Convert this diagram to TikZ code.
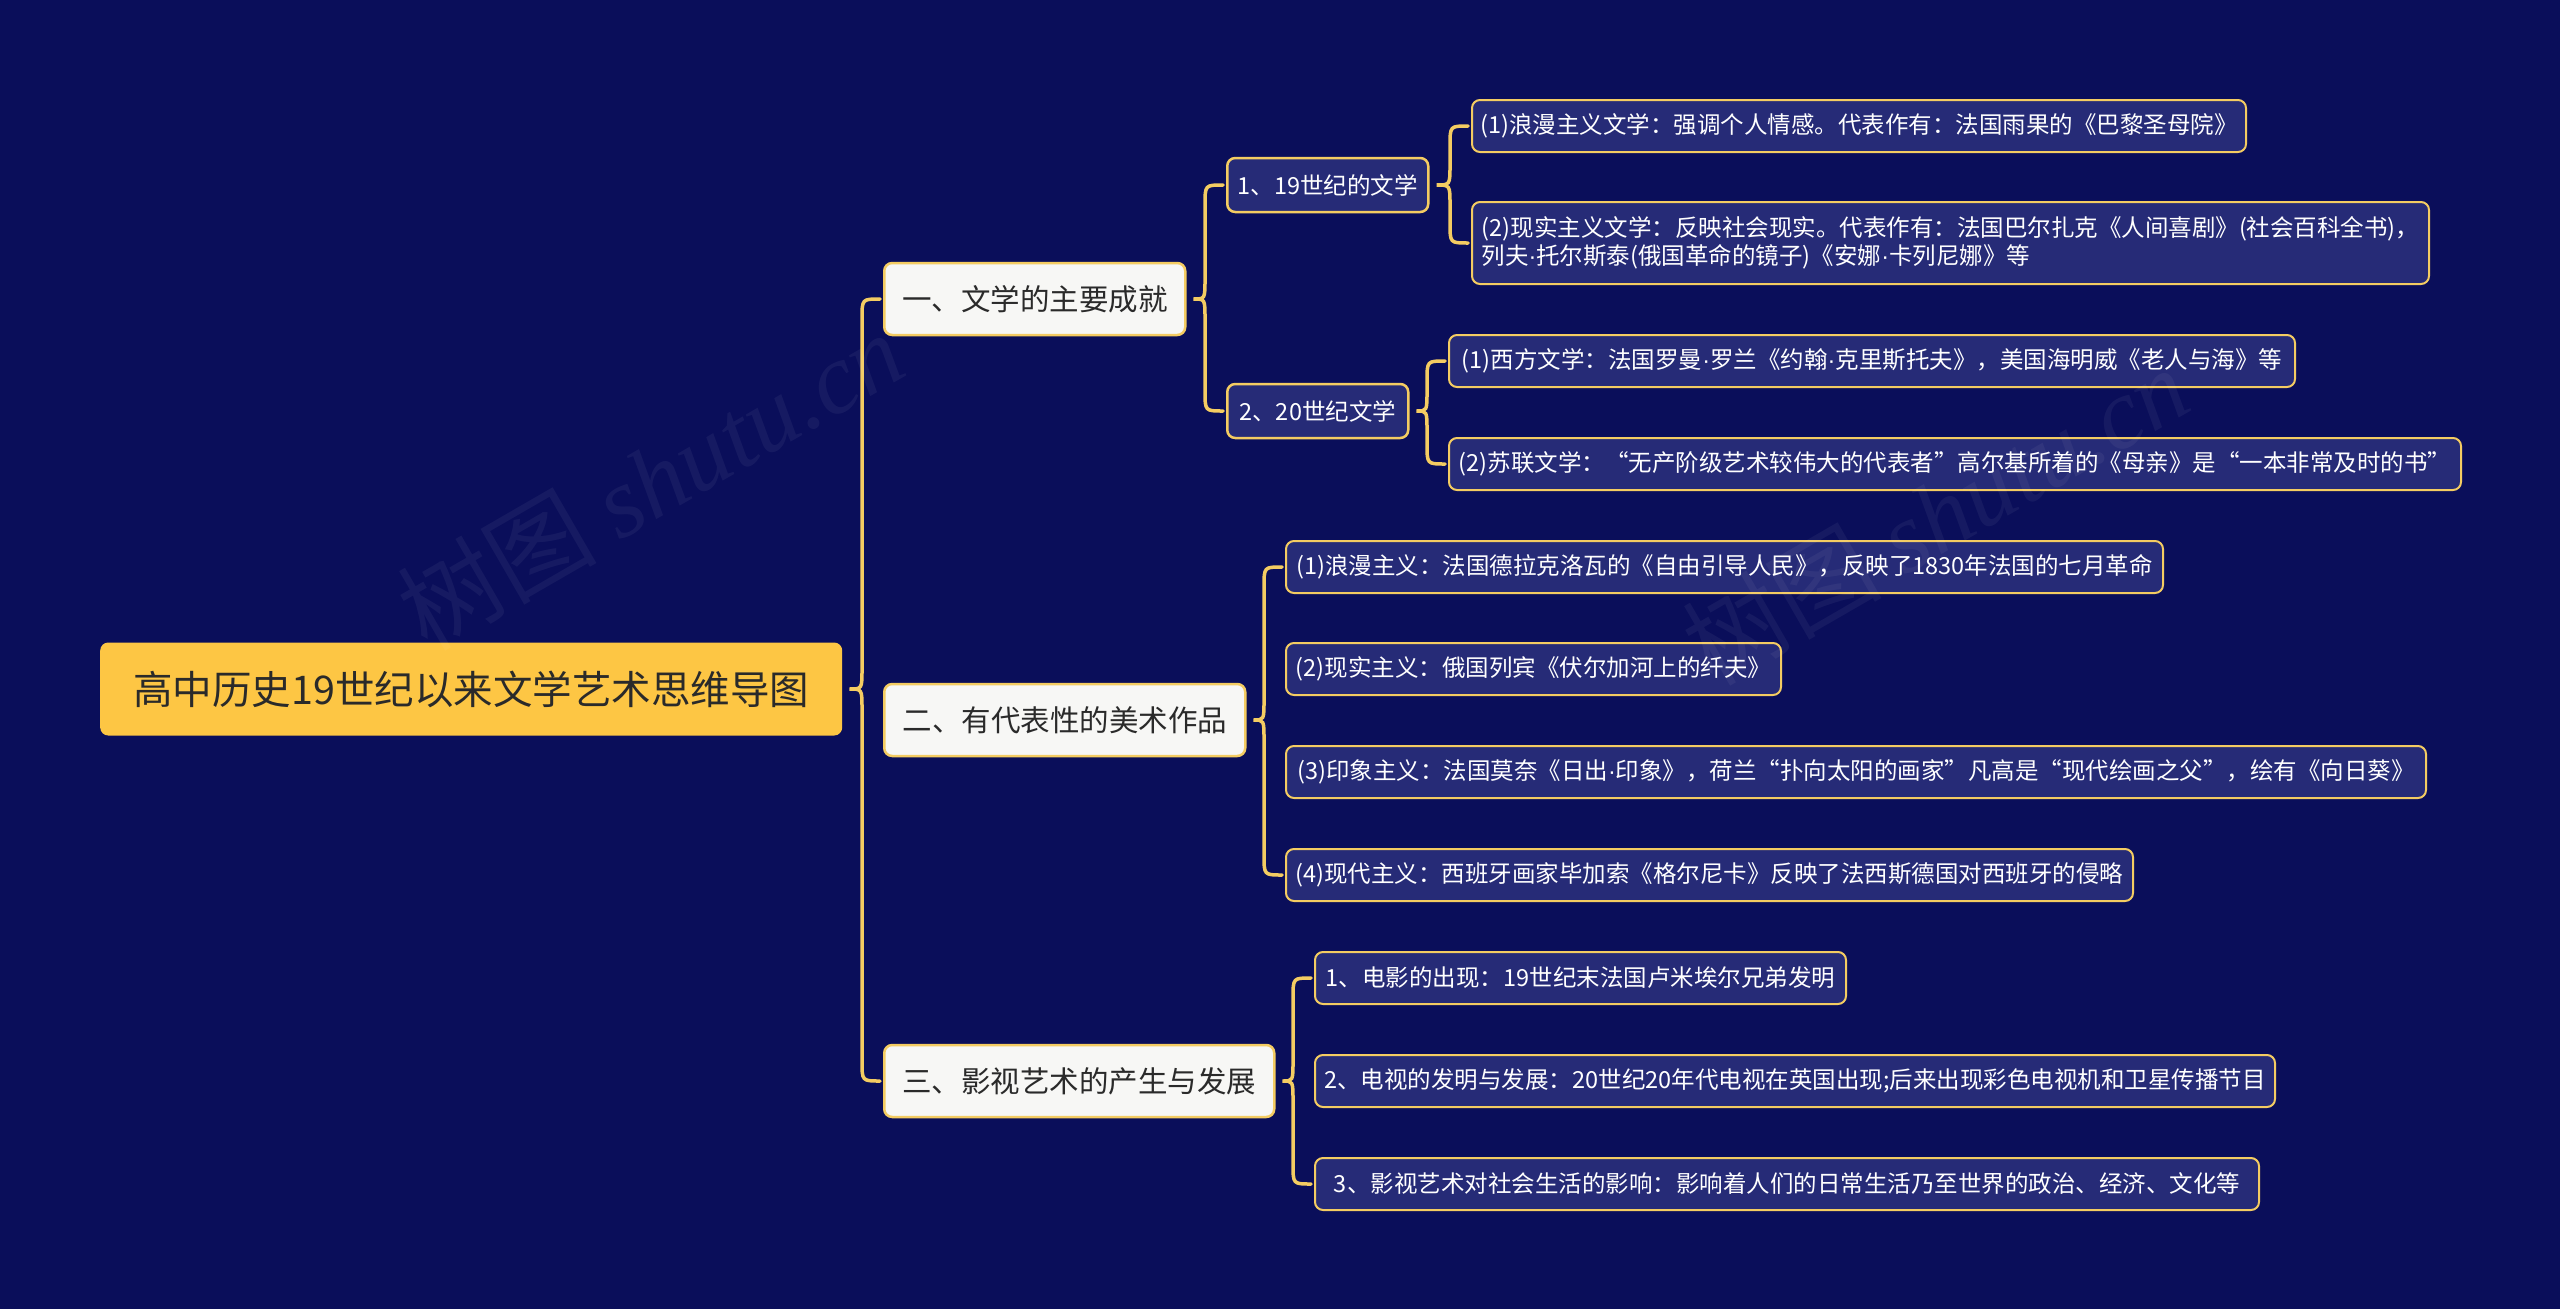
\documentclass[tikz,border=0pt]{standalone}
\usepackage{fontspec}
\setmainfont{Noto Sans CJK SC}
\newfontfamily\wmfont{Liberation Serif}
\newfontfamily\latinfont{Liberation Sans}
\newcommand\md{{\latinfont ·}}
\usetikzlibrary{calc}
\definecolor{bg}{HTML}{0A0E5A}
\definecolor{leaffill}{HTML}{262B77}
\definecolor{gold}{HTML}{F4CC62}
\definecolor{rootfill}{HTML}{FDC644}
\definecolor{lonefill}{HTML}{F7F7F5}
\definecolor{darktext}{HTML}{2A2A2A}
\tikzset{
  base/.style={rounded corners=8pt, anchor=west, inner xsep=0pt, inner ysep=0pt, align=center},
  rootbox/.style={base, fill=rootfill, text=darktext, font=\fontsize{39.5}{46}\selectfont, minimum height=93pt},
  lonebox/.style={base, fill=lonefill, draw=gold, line width=2.5pt, text=darktext, font=\fontsize{29.5}{34}\selectfont, minimum height=72pt},
  ltwobox/.style={base, fill=leaffill, draw=gold, line width=2.5pt, text=white, font=\fontsize{23.5}{28}\selectfont, minimum height=54pt},
  leafbox/.style={base, fill=leaffill, draw=gold, line width=2pt, text=white, font=\fontsize{23.5}{28}\selectfont, minimum height=52pt},
  conn/.style={draw=gold, line width=3.5pt, line cap=round},
  wmark/.style={text=white, opacity=0.05, rotate=30, font=\fontsize{100}{110}\selectfont}
}
\newcommand\mmbrace[3]{%
  \draw[conn] let \p1=(#1.east), \p2=(#2.west), \p3=(#3.west) in
    (\x2-3pt,\y2) .. controls (\x2-21pt,\y2) .. (\x2-21pt,\y2-20pt)
    -- (\x2-21pt,\y1+20pt) .. controls (\x2-21pt,\y1) .. (\x1+7pt,\y1)
    .. controls (\x2-21pt,\y1) .. (\x2-21pt,\y1-20pt)
    -- (\x3-21pt,\y3+20pt) .. controls (\x3-21pt,\y3) .. (\x3-3pt,\y3);}
\begin{document}
\begin{tikzpicture}[x=1pt,y=-1pt]
\useasboundingbox (0,0) rectangle (2560,1309);
\fill[bg] (0,0) rectangle (2560,1309);
% root
\node[rootbox, minimum width=742pt] (root) at (100,689) {高中历史19世纪以来文学艺术思维导图};
% level 1
\node[lonebox, minimum width=301pt] (la) at (883,299) {一、文学的主要成就};
\node[lonebox, minimum width=361pt] (lb) at (883,720) {二、有代表性的美术作品};
\node[lonebox, minimum width=390pt] (lc) at (883,1081) {三、影视艺术的产生与发展};
% level 2 under la
\node[ltwobox, minimum width=201pt] (ma) at (1226,185) {1、19世纪的文学};
\node[ltwobox, minimum width=181pt] (mb) at (1226,411) {2、20世纪文学};
% leaves
\node[leafbox, minimum width=774pt] (a1) at (1471,126) {(1)浪漫主义文学：强调个人情感。代表作有：法国雨果的《巴黎圣母院》};
\node[leafbox, minimum width=957pt, minimum height=82pt, align=left] (a2) at (1471,243) {(2)现实主义文学：反映社会现实。代表作有：法国巴尔扎克《人间喜剧》(社会百科全书)，\\列夫\md 托尔斯泰(俄国革命的镜子)《安娜\md 卡列尼娜》等};
\node[leafbox, minimum width=846pt] (b1) at (1448,361) {(1)西方文学：法国罗曼\md 罗兰《约翰\md 克里斯托夫》，美国海明威《老人与海》等};
\node[leafbox, minimum width=1012pt] (b2) at (1448,464) {(2)苏联文学：“无产阶级艺术较伟大的代表者”高尔基所着的《母亲》是“一本非常及时的书”};
\node[leafbox, minimum width=877pt] (c1) at (1285,567) {(1)浪漫主义：法国德拉克洛瓦的《自由引导人民》，反映了1830年法国的七月革命};
\node[leafbox, minimum width=495pt] (c2) at (1285,669) {(2)现实主义：俄国列宾《伏尔加河上的纤夫》};
\node[leafbox, minimum width=1140pt] (c3) at (1285,772) {(3)印象主义：法国莫奈《日出\md 印象》，荷兰“扑向太阳的画家”凡高是“现代绘画之父”，绘有《向日葵》};
\node[leafbox, minimum width=847pt] (c4) at (1285,875) {(4)现代主义：西班牙画家毕加索《格尔尼卡》反映了法西斯德国对西班牙的侵略};
\node[leafbox, minimum width=531pt] (d1) at (1314,978) {1、电影的出现：19世纪末法国卢米埃尔兄弟发明};
\node[leafbox, minimum width=960pt] (d2) at (1314,1081) {2、电视的发明与发展：20世纪20年代电视在英国出现;后来出现彩色电视机和卫星传播节目};
\node[leafbox, minimum width=944pt] (d3) at (1314,1184) {3、影视艺术对社会生活的影响：影响着人们的日常生活乃至世界的政治、经济、文化等};
% connectors
\mmbrace{root}{la}{lc}
\mmbrace{la}{ma}{mb}
\mmbrace{ma}{a1}{a2}
\mmbrace{mb}{b1}{b2}
\mmbrace{lb}{c1}{c4}
\mmbrace{lc}{d1}{d3}
% watermarks
\node[wmark] (wm1) at (650,480) {树图 {\wmfont\itshape shutu.cn}};
\node[wmark] (wm2) at (1935,515) {树图 {\wmfont\itshape shutu.cn}};
\end{tikzpicture}
\end{document}
